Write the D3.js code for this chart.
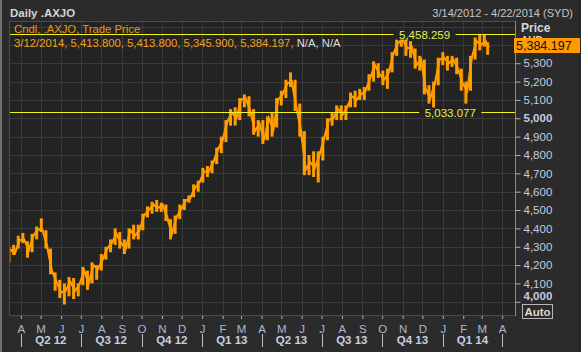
<!DOCTYPE html>
<html><head><meta charset="utf-8">
<script src="https://cdn.jsdelivr.net/npm/d3@7"></script>
<style>html,body{margin:0;padding:0;background:#2b2b2b;overflow:hidden}svg{display:block;font-family:"Liberation Sans",Arial,sans-serif}</style>
</head><body><svg id="c" width="581" height="352"></svg>
<script>
// ---------- data (weekly) ----------
const weekEnds = ["2012-03-16","2012-03-23","2012-03-30","2012-04-06","2012-04-13","2012-04-20","2012-04-27","2012-05-04","2012-05-11","2012-05-18","2012-05-25","2012-06-01","2012-06-08","2012-06-15","2012-06-22","2012-06-29","2012-07-06","2012-07-13","2012-07-20","2012-07-27","2012-08-03","2012-08-10","2012-08-17","2012-08-24","2012-08-31","2012-09-07","2012-09-14","2012-09-21","2012-09-28","2012-10-05","2012-10-12","2012-10-19","2012-10-26","2012-11-02","2012-11-09","2012-11-16","2012-11-23","2012-11-30","2012-12-07","2012-12-14","2012-12-21","2012-12-28","2013-01-04","2013-01-11","2013-01-18","2013-01-25","2013-02-01","2013-02-08","2013-02-15","2013-02-22","2013-03-01","2013-03-08","2013-03-15","2013-03-22","2013-03-29","2013-04-05","2013-04-12","2013-04-19","2013-04-26","2013-05-03","2013-05-10","2013-05-17","2013-05-24","2013-05-31","2013-06-07","2013-06-14","2013-06-21","2013-06-28","2013-07-05","2013-07-12","2013-07-19","2013-07-26","2013-08-02","2013-08-09","2013-08-16","2013-08-23","2013-08-30","2013-09-06","2013-09-13","2013-09-20","2013-09-27","2013-10-04","2013-10-11","2013-10-18","2013-10-25","2013-11-01","2013-11-08","2013-11-15","2013-11-22","2013-11-29","2013-12-06","2013-12-13","2013-12-20","2013-12-27","2014-01-03","2014-01-10","2014-01-17","2014-01-24","2014-01-31","2014-02-07","2014-02-14","2014-02-21","2014-02-28","2014-03-07","2014-03-12"];
const weekLow = [4215,4255,4290,4320,4240,4270,4340,4380,4290,4150,4060,4020,3985,4030,4015,4030,4090,4065,4100,4120,4170,4230,4270,4310,4290,4260,4290,4340,4340,4390,4460,4480,4490,4490,4440,4340,4370,4450,4500,4540,4570,4600,4650,4680,4700,4750,4810,4870,4960,4960,4990,5060,5010,4910,4900,4860,4880,4900,4950,5070,5110,5170,5040,4900,4690,4690,4680,4650,4770,4880,4960,4990,4990,4990,5060,5060,5100,5100,5150,5200,5220,5180,5160,5250,5340,5390,5340,5330,5270,5260,5130,5080,5033,5180,5290,5260,5280,5240,5150,5080,5150,5320,5370,5390,5346];
const weekHigh = [4300,4310,4360,4375,4330,4370,4410,4455,4390,4290,4160,4120,4100,4135,4130,4100,4190,4170,4215,4200,4260,4300,4340,4400,4380,4340,4400,4420,4420,4480,4520,4545,4555,4540,4530,4450,4470,4530,4560,4580,4640,4660,4730,4740,4770,4840,4900,4990,5050,5060,5110,5130,5120,5050,4990,4990,5010,5030,5110,5150,5210,5250,5210,5080,4930,4800,4820,4820,4900,5000,5030,5070,5070,5070,5140,5150,5160,5170,5240,5310,5300,5260,5270,5360,5430,5458,5440,5420,5380,5340,5320,5180,5200,5330,5360,5340,5340,5330,5270,5200,5340,5440,5460,5458,5414];
const weekClose = [4285,4265,4335,4340,4280,4360,4395,4390,4300,4170,4110,4050,4060,4110,4060,4095,4170,4100,4200,4180,4230,4290,4320,4370,4320,4290,4390,4360,4390,4470,4500,4530,4510,4530,4460,4370,4460,4505,4550,4565,4620,4650,4710,4710,4760,4830,4880,4980,5030,5000,5100,5110,5040,4930,4970,4880,5000,4940,5100,5130,5190,5200,5060,4930,4720,4760,4730,4800,4890,4990,5000,5050,5020,5060,5120,5100,5130,5150,5220,5290,5240,5210,5250,5350,5410,5430,5380,5390,5290,5320,5160,5110,5190,5320,5330,5300,5320,5270,5190,5150,5330,5420,5400,5420,5384.197];
const firstDate = "2012-03-14", lastDate = "2014-04-22";
const yTickValues = [4000,4100,4200,4300,4400,4500,4600,4700,4800,4900,5000,5100,5200,5300,5400,5500];
const yLabelMax = 5300;
const boldTicks = [4000, 5000];
const maxInfo = {value: 5458.259, label: "5,458.259", date: "2013-11-01"};
const minInfo = {value: 5033.077, label: "5,033.077", date: "2013-12-16"};
const headerTitle = "Daily .AXJO";
const headerRange = "3/14/2012 - 4/22/2014 (SYD)";
const legendTitle = "Cndl, .AXJO, Trade Price";
const legendValues = ["3/12/2014", "5,413.800", "5,413.800", "5,345.900", "5,384.197"];
const legendNA = ["N/A", "N/A"];
const currencyLabel = "AUD";
const lastPrice = 5384.197;

// ---------- layout ----------
const W = 581, H = 352;
const P = {l: 9, t: 21, r: 515, b: 315};
const parse = d3.timeParse("%Y-%m-%d");
const x = d3.scaleTime().domain([parse(firstDate), parse(lastDate)]).range([P.l, 516]);
const y = d3.scaleLinear().domain([3928, 5530]).range([P.b, P.t]);
const ORANGE = "#ff9c00";

const svg = d3.select("#c");
const defs = svg.append("defs");
svg.append("rect").attr("width", W).attr("height", H).attr("fill", "#2b2b2b");
svg.append("rect").attr("x", 0).attr("y", 0).attr("width", 2).attr("height", H).attr("fill", "#707070");
svg.append("rect").attr("x", 578).attr("y", 0).attr("width", 3).attr("height", H).attr("fill", "#262626");

// header
svg.append("text").attr("x", 10).attr("y", 17).attr("font-size", 11.5).attr("font-weight", "bold")
  .attr("fill", "#d4d4d4").text(headerTitle);
svg.append("text").attr("x", 573).attr("y", 17).attr("font-size", 11).attr("text-anchor", "end")
  .attr("fill", "#c4c4c4").text(headerRange);

// plot background
svg.append("rect").attr("x", P.l + 0.5).attr("y", P.t + 0.5).attr("width", P.r - P.l).attr("height", P.b - P.t)
  .attr("fill", "#232323").attr("stroke", "#4c4c4c");

defs.append("clipPath").attr("id", "clip").append("rect")
  .attr("x", P.l + 1).attr("y", P.t + 1).attr("width", P.r - P.l - 1).attr("height", P.b - P.t - 1);

const grid = svg.append("g").attr("clip-path", "url(#clip)");
const months = d3.timeMonth.range(d3.timeMonth.ceil(parse(firstDate)), parse(lastDate));
grid.selectAll("line.v").data(months).join("line")
  .attr("x1", d => Math.round(x(d)) + 0.5).attr("x2", d => Math.round(x(d)) + 0.5)
  .attr("y1", P.t).attr("y2", P.b).attr("stroke", "#3a3a3a");
grid.selectAll("line.h").data(yTickValues).join("line")
  .attr("x1", P.l).attr("x2", P.r)
  .attr("y1", d => Math.round(y(d)) + 0.5).attr("y2", d => Math.round(y(d)) + 0.5).attr("stroke", "#3a3a3a");

// data marks
const weeks = weekEnds.map((d, i) => ({end: parse(d), lo: weekLow[i], hi: weekHigh[i], cl: weekClose[i]}));
const dataG = svg.append("g").attr("clip-path", "url(#clip)");
const mid = d => d3.timeDay.offset(d.end, -2);
dataG.append("path").datum(weeks)
  .attr("d", d3.line().x(d => x(d.end)).y(d => y(d.cl)))
  .attr("fill", "none").attr("stroke", ORANGE).attr("stroke-width", 2.2).attr("stroke-linejoin", "miter");
dataG.selectAll("rect.c").data(weeks).join("rect")
  .attr("x", d => x(mid(d)) - 1.5).attr("width", 3)
  .attr("y", d => y(d.hi)).attr("height", d => Math.max(1, y(d.lo) - y(d.hi)))
  .attr("fill", ORANGE);

// reference lines (max / min)
function refLine(info, offset) {
  const yy = Math.round(y(info.value)) + 0.5;
  svg.append("line").attr("x1", P.l + 1).attr("x2", P.r).attr("y1", yy).attr("y2", yy)
    .attr("stroke", "#f2f21e").attr("stroke-width", 1);
  const cx = x(parse(info.date)) + offset;
  svg.append("rect").attr("x", cx - 31).attr("y", yy - 5).attr("width", 62).attr("height", 10).attr("fill", "#232323");
  svg.append("text").attr("x", cx).attr("y", yy + 4).attr("text-anchor", "middle").attr("font-size", 11.5)
    .attr("fill", "#e2ee58").text(info.label);
}
refLine(maxInfo, 22);
refLine(minInfo, 18);

// legend
svg.append("text").attr("x", 14).attr("y", 33).attr("font-size", 11.3).attr("fill", "#e89a10").text(legendTitle);
const leg = svg.append("text").attr("x", 14).attr("y", 47).attr("font-size", 11.3);
leg.append("tspan").attr("fill", "#f0a020").text(legendValues.join(", ") + ", ");
leg.append("tspan").attr("fill", "#dcdcdc").text(legendNA.join(", "));

// right axis
const yAxis = d3.axisRight(y).tickValues(yTickValues.filter(v => v <= yLabelMax)).tickSize(5).tickPadding(3)
  .tickFormat(d3.format(","));
const ya = svg.append("g").attr("transform", `translate(${P.r + 0.5},0)`).call(yAxis);
ya.select(".domain").attr("stroke", "#8a8a8a").attr("d", `M0,${P.t}V${P.b + 1}`);
ya.selectAll(".tick line").attr("stroke", "#b0b0b0");
ya.selectAll(".tick text").attr("fill", "#c3cbe0").attr("font-size", 11.5)
  .attr("font-family", "Liberation Sans, Arial, sans-serif")
  .attr("font-weight", d => boldTicks.includes(d) ? "bold" : "normal")
  .attr("dy", d => d === 4000 ? "-0.2em" : "0.32em");

// price label, currency (mostly hidden under the last-price box), last price box
svg.append("text").attr("x", 521).attr("y", 32).attr("font-size", 12).attr("font-weight", "bold").attr("fill", "#d6d6d6").text("Price");
defs.append("clipPath").attr("id", "audclip").append("rect").attr("x", 514).attr("y", 33).attr("width", 66).attr("height", 5);
svg.append("text").attr("x", 521).attr("y", 44).attr("font-size", 10).attr("font-weight", "bold")
  .attr("fill", "#d6d6d6").attr("clip-path", "url(#audclip)").text(currencyLabel);
svg.append("rect").attr("x", 514).attr("y", 38).attr("width", 66).attr("height", 15).attr("fill", "#ff9a00");
svg.append("text").attr("x", 516).attr("y", 50).attr("font-size", 12.5).attr("fill", "#111").text(d3.format(",.3f")(lastPrice));

// Auto box
svg.append("rect").attr("x", 522.5).attr("y", 304.5).attr("width", 30).attr("height", 14)
  .attr("fill", "none").attr("stroke", "#b8b8b8");
svg.append("text").attr("x", 537.5).attr("y", 315.5).attr("text-anchor", "middle").attr("font-size", 11.5)
  .attr("font-weight", "bold").attr("fill", "#d8d8d8").text("Auto");

// bottom axis: months
const xAxis = d3.axisBottom(x).tickValues(months).tickSize(3).tickPadding(6)
  .tickFormat(d => d3.timeFormat("%B")(d)[0]);
const xa = svg.append("g").attr("transform", `translate(0,${P.b + 1})`).call(xAxis);
xa.select(".domain").remove();
xa.selectAll(".tick line").attr("stroke", "#b4b4b4");
xa.selectAll(".tick text").attr("fill", "#a9b8d4").attr("font-size", 11.5)
  .attr("font-family", "Liberation Sans, Arial, sans-serif");

// quarters
const quarters = months.filter(d => d.getMonth() % 3 === 0);
svg.selectAll("line.q").data(quarters).join("line")
  .attr("x1", d => Math.round(x(d)) + 0.5).attr("x2", d => Math.round(x(d)) + 0.5)
  .attr("y1", 334).attr("y2", 347).attr("stroke", "#c0c0c0");
const qSpans = quarters.slice(0, -1).map((d, i) => ({start: d, end: quarters[i + 1]}));
svg.selectAll("text.q").data(qSpans).join("text")
  .attr("x", d => (x(d.start) + x(d.end)) / 2).attr("y", 344).attr("text-anchor", "middle")
  .attr("font-size", 11.5).attr("font-weight", "bold").attr("fill", "#c6cee0")
  .text(d => "Q" + (Math.floor(d.start.getMonth() / 3) + 1) + " " + d3.timeFormat("%y")(d.start));
</script>
</body></html>
